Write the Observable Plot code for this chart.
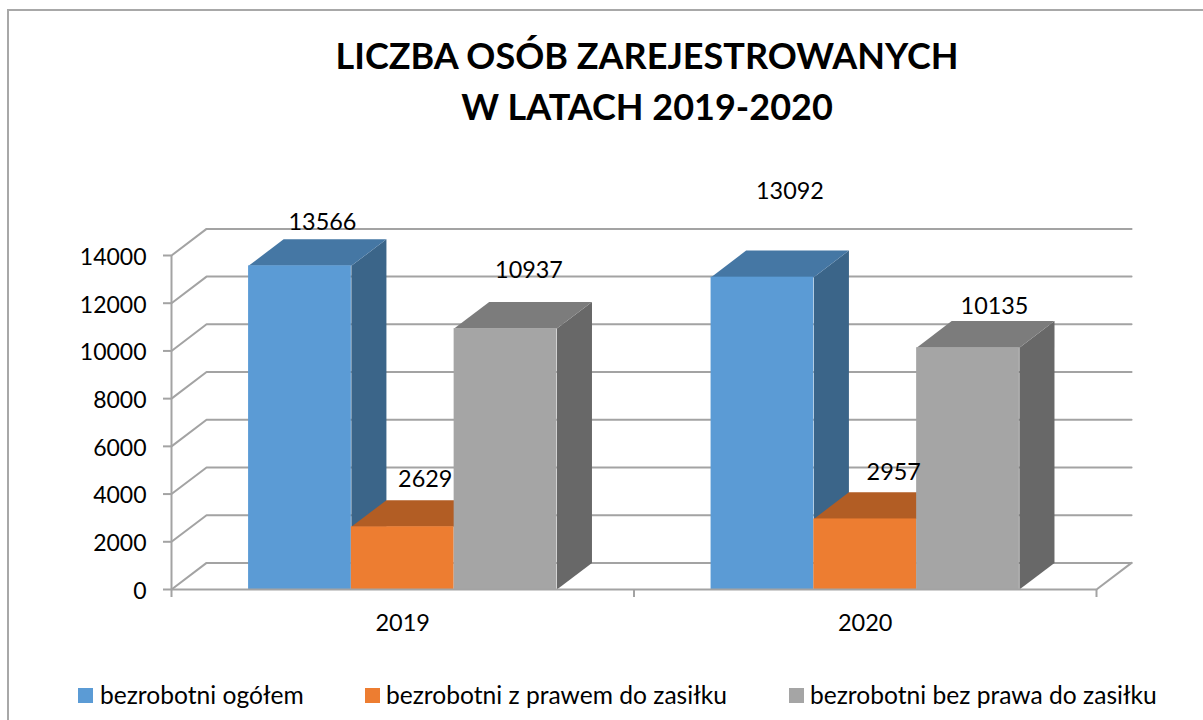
<!DOCTYPE html>
<html lang="pl">
<head>
<meta charset="utf-8">
<script src="https://cdn.jsdelivr.net/npm/d3@7"></script>
<script src="https://cdn.jsdelivr.net/npm/@observablehq/plot@0.6"></script>
<style>
  html, body { margin: 0; padding: 0; background: #fff; overflow: hidden; }
  #frame { position: relative; width: 1203px; height: 720px; font-family: Lato, sans-serif; color: #000; }
  #border { position: absolute; left: 7px; top: 9px; right: 0; bottom: 0; border-left: 2px solid #a8a8a8; border-top: 2px solid #a8a8a8; }
  #title { position: absolute; left: 47px; width: 1200px; top: 30px; text-align: center; font-weight: 700; font-size: 36px; line-height: 51px; }
  #chart { position: absolute; left: 0; top: 170px; }
  .lg { position: absolute; top: 678px; font-size: 24.6px; line-height: 34px; white-space: nowrap; }
  .sw { position: absolute; top: 688px; width: 15px; height: 15px; }
</style>
</head>
<body>
<div id="frame">
  <div id="border"></div>
  <div id="title">LICZBA OSÓB ZAREJESTROWANYCH<br>W LATACH 2019-2020</div>
  <div id="chart"></div>
  <div id="legend"></div>
</div>
<script>
const years = ["2019", "2020"];
const seriesNames = ["bezrobotni ogółem", "bezrobotni z prawem do zasiłku", "bezrobotni bez prawa do zasiłku"];
const total = [13566, 13092];
const withBenefit = [2629, 2957];
const withoutBenefit = [10937, 10135];
const yTicks = [0, 2000, 4000, 6000, 8000, 10000, 12000, 14000];

// styling
const frontColors = ["#5b9bd5", "#ed7d31", "#a5a5a5"];
const topColors = ["#4577a4", "#b25d24", "#7c7c7c"];
const sideColors = ["#3b6589", "#8f4c1e", "#686868"];
const gridColor = "#a3a3a3";
// 3D depth and bar layout, in scale units
const depthX = 0.0758, depthY = 1115;
const barWidth = 1 / 4.5, sideGap = 0.75 * barWidth;
// hand-placed data label offsets (pixels), per year then per series
const labelDx = [[22, 22, 23], [27, 28, 26]];
const labelDy = [[-44, -48, -59], [-86, -47, -42]];

const values = [total, withBenefit, withoutBenefit];
const marks = [];

// walls: grid lines run from the front edge to the back wall and along it
for (const t of yTicks) {
  marks.push(Plot.line(
    [{x: 0, y: t}, {x: depthX, y: t + depthY}, {x: 2 + depthX, y: t + depthY}],
    {x: "x", y: "y", stroke: gridColor, strokeWidth: 2}
  ));
}
// floor right edge
marks.push(Plot.line([{x: 2, y: 0}, {x: 2 + depthX, y: depthY}], {x: "x", y: "y", stroke: gridColor, strokeWidth: 2}));
// left wall front edge
marks.push(Plot.ruleX([0], {y1: 0, y2: 14000, stroke: gridColor, strokeWidth: 2}));

// 3D bars, painted left to right
years.forEach((year, g) => {
  seriesNames.forEach((name, s) => {
    const v = values[s][g];
    const x1 = g + sideGap + s * barWidth;
    const x2 = x1 + barWidth;
    marks.push(Plot.line(
      [{x: x2, y: 0}, {x: x2 + depthX, y: depthY}, {x: x2 + depthX, y: v + depthY}, {x: x2, y: v}],
      {x: "x", y: "y", fill: sideColors[s], stroke: "none"}
    ));
    marks.push(Plot.line(
      [{x: x1, y: v}, {x: x1 + depthX, y: v + depthY}, {x: x2 + depthX, y: v + depthY}, {x: x2, y: v}],
      {x: "x", y: "y", fill: topColors[s], stroke: "none"}
    ));
    marks.push(Plot.rect([{x1, x2, y1: 0, y2: v}], {x1: "x1", x2: "x2", y1: "y1", y2: "y2", fill: frontColors[s]}));
  });
});

// front floor edge
marks.push(Plot.ruleY([0], {x1: 0, x2: 2, stroke: gridColor, strokeWidth: 2}));

// axes
marks.push(Plot.axisY({
  ticks: yTicks, tickSize: 8, tickFormat: () => "", label: null,
  stroke: gridColor, strokeWidth: 2, strokeOpacity: 1
}));
marks.push(Plot.text(yTicks, {
  x: () => 0, y: d => d, text: d => String(d), textAnchor: "end",
  dx: -25, dy: 2, fontSize: 23, fill: "#000"
}));
marks.push(Plot.axisX({
  ticks: [0, 1, 2], tickSize: 8, tickFormat: () => "", label: null,
  stroke: gridColor, strokeWidth: 2, strokeOpacity: 1
}));
marks.push(Plot.text(years, {
  x: (d, i) => i + 0.5, y: () => 0, text: d => d, dy: 34, fontSize: 23.5, fill: "#000"
}));

// data labels
years.forEach((year, g) => {
  seriesNames.forEach((name, s) => {
    const v = values[s][g];
    marks.push(Plot.text([v], {
      x: () => g + sideGap + (s + 0.5) * barWidth, y: d => d, text: d => String(d),
      dx: labelDx[g][s] + 0.5, dy: labelDy[g][s] + 0.5, fontSize: 23.4, fill: "#000"
    }));
  });
});

const chart = Plot.plot({
  width: 1203, height: 470,
  marginLeft: 171, marginRight: 107, marginTop: 85, marginBottom: 51,
  x: {type: "linear", domain: [0, 2], axis: null},
  y: {type: "linear", domain: [0, 14000], axis: null},
  style: {fontFamily: "Lato, sans-serif", background: "transparent", overflow: "visible"},
  marks
});
document.getElementById("chart").appendChild(chart);

// legend
const legend = document.getElementById("legend");
const swatchLeft = [78, 365, 789];
const textLeft = [100, 386, 810];
seriesNames.forEach((name, s) => {
  const sw = document.createElement("div");
  sw.className = "sw"; sw.style.left = swatchLeft[s] + "px"; sw.style.background = frontColors[s];
  const t = document.createElement("div");
  t.className = "lg"; t.style.left = textLeft[s] + "px"; t.textContent = name;
  legend.append(sw, t);
});
</script>
</body>
</html>
